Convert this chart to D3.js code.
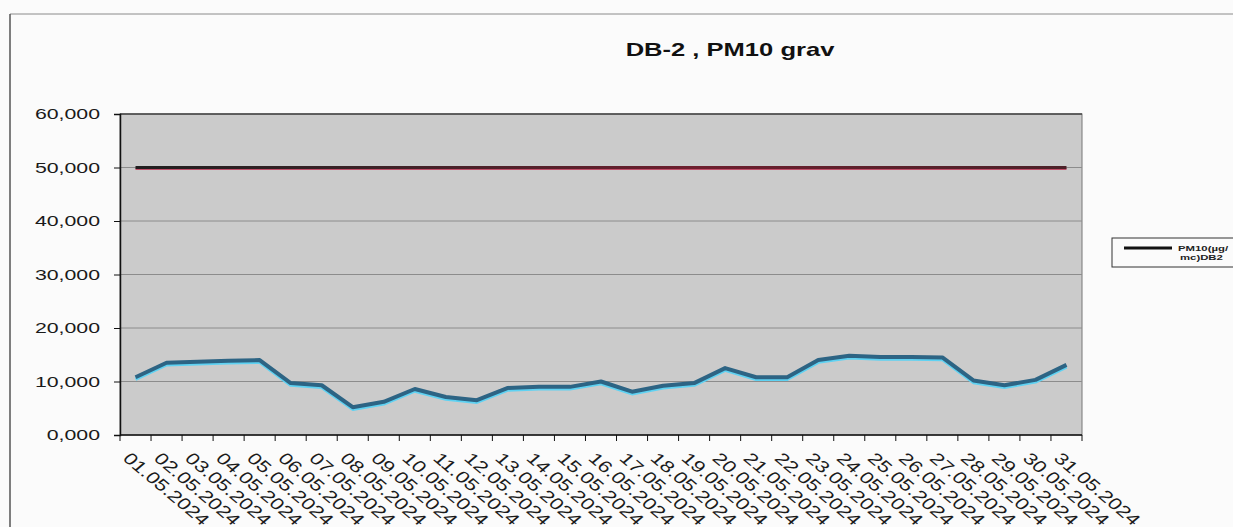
<!DOCTYPE html>
<html>
<head>
<meta charset="utf-8">
<script src="https://cdn.jsdelivr.net/npm/d3@7"></script>
<style>
  body { margin: 0; background: #fbfbfb; }
  svg { display: block; font-family: "Liberation Sans", Arial, sans-serif; }
</style>
</head>
<body>
<div id="chart"></div>
<script>
// data
let days = ['01.05.2024', '02.05.2024', '03.05.2024', '04.05.2024', '05.05.2024', '06.05.2024',
    '07.05.2024', '08.05.2024', '09.05.2024', '10.05.2024', '11.05.2024', '12.05.2024',
    '13.05.2024', '14.05.2024', '15.05.2024', '16.05.2024', '17.05.2024', '18.05.2024',
    '19.05.2024', '20.05.2024', '21.05.2024', '22.05.2024', '23.05.2024', '24.05.2024',
    '25.05.2024', '26.05.2024', '27.05.2024', '28.05.2024', '29.05.2024', '30.05.2024',
    '31.05.2024'];
let pm10 = [10.8, 13.5, 13.7, 13.9, 14.0, 9.7, 9.3, 5.2, 6.2, 8.6, 7.1, 6.5, 8.8, 9.0, 9.0, 10.0,
    8.1, 9.2, 9.7, 12.5, 10.8, 10.8, 14.0, 14.8, 14.6, 14.6, 14.5, 10.2, 9.3, 10.3, 13.1];
let limit = days.map(function () { return 50; });
let y_ticks = [0, 10, 20, 30, 40, 50, 60];
let title = 'DB-2 , PM10 grav';
let legend_lines = ['PM10(\u00b5g/', 'mc)DB2'];

let width = 1233, height = 527;
let plot_left = 120, plot_right = 1082, plot_top = 114, plot_bottom = 435;
let stretch = 1.42; // the scan is wider than it is tall

let svg = d3.select('#chart')
    .append('svg')
    .attr('width', width)
    .attr('height', height);

// outer chart frame (partly visible in the scan)
svg.append('line')
    .attr('x1', 10).attr('x2', width).attr('y1', 14).attr('y2', 14)
    .attr('stroke', '#8a8a8a').attr('stroke-width', 1);
svg.append('line')
    .attr('x1', 10).attr('x2', 10).attr('y1', 14).attr('y2', height)
    .attr('stroke', '#555').attr('stroke-width', 1.5);

let x = d3.scaleBand().domain(days).range([plot_left, plot_right]).padding(0);
let y = d3.scaleLinear().domain([0, 60]).range([plot_bottom, plot_top]);
let cx = function (d) { return x(d) + x.bandwidth() / 2; };

let locale = d3.formatLocale({ decimal: ',', thousands: '.', grouping: [3], currency: ['', ''] });
let fmt = locale.format('.3f');

// plot area
svg.append('rect')
    .attr('x', plot_left).attr('y', plot_top)
    .attr('width', plot_right - plot_left).attr('height', plot_bottom - plot_top)
    .attr('fill', '#cbcbcb')
    .attr('stroke', '#777').attr('stroke-width', 1);

svg.append('g')
    .selectAll('line')
    .data(y_ticks.slice(1, -1))
    .join('line')
    .attr('x1', plot_left).attr('x2', plot_right)
    .attr('y1', function (d) { return y(d); })
    .attr('y2', function (d) { return y(d); })
    .attr('stroke', '#8c8c8c').attr('stroke-width', 1);

svg.append('line')
    .attr('x1', plot_left).attr('x2', plot_right).attr('y1', plot_top).attr('y2', plot_top)
    .attr('stroke', '#444').attr('stroke-width', 1.5);

// y axis
let y_axis = d3.axisLeft(y).tickValues(y_ticks).tickFormat(fmt).tickSize(6);
let gy = svg.append('g')
    .attr('transform', 'translate(' + plot_left + ',0)')
    .call(y_axis);
gy.select('.domain').attr('stroke', '#111').attr('stroke-width', 1.5);
gy.selectAll('.tick line').attr('stroke', '#111');
gy.selectAll('.tick text')
    .attr('x', 0)
    .attr('transform', 'translate(-20,0) scale(' + stretch + ',1)')
    .attr('font-size', '15px')
    .attr('font-family', '"Liberation Sans", Arial, sans-serif')
    .attr('fill', '#1a1a1a');

// x axis: ticks between categories, rotated labels
let gx = svg.append('g');
gx.append('line')
    .attr('x1', plot_left).attr('x2', plot_right).attr('y1', plot_bottom).attr('y2', plot_bottom)
    .attr('stroke', '#111').attr('stroke-width', 1.5);
gx.selectAll('line.tick')
    .data(days.concat(['end']))
    .join('line')
    .attr('class', 'tick')
    .attr('x1', function (d) { return d === 'end' ? plot_right : x(d); })
    .attr('x2', function (d) { return d === 'end' ? plot_right : x(d); })
    .attr('y1', plot_bottom).attr('y2', plot_bottom + 6)
    .attr('stroke', '#111');
gx.selectAll('text')
    .data(days)
    .join('text')
    .attr('transform', function (d) {
        return 'translate(' + (cx(d) - 4) + ',' + (plot_bottom + 16) + ') scale(1.19,1) rotate(45)';
    })
    .attr('dominant-baseline', 'hanging')
    .attr('font-size', '16px')
    .attr('textLength', 95)
    .attr('lengthAdjust', 'spacingAndGlyphs')
    .attr('fill', '#1a1a1a')
    .text(function (d) { return d; });

// limit line, dark fading into red as on the print
let grad = svg.append('defs').append('linearGradient')
    .attr('id', 'limitgrad')
    .attr('gradientUnits', 'userSpaceOnUse')
    .attr('x1', plot_left).attr('x2', plot_right).attr('y1', 0).attr('y2', 0);
grad.append('stop').attr('offset', '0%').attr('stop-color', '#1e1e1e');
grad.append('stop').attr('offset', '25%').attr('stop-color', '#3a2226');
grad.append('stop').attr('offset', '60%').attr('stop-color', '#6e1f2e');
grad.append('stop').attr('offset', '100%').attr('stop-color', '#4a2228');

let line = d3.line()
    .x(function (d, i) { return cx(days[i]); })
    .y(function (d) { return y(d); });

svg.append('path')
    .datum(limit)
    .attr('d', line)
    .attr('transform', 'translate(0,1.5)')
    .attr('fill', 'none')
    .attr('stroke', '#c0506a').attr('stroke-width', 2);
svg.append('path')
    .datum(limit)
    .attr('d', line)
    .attr('fill', 'none')
    .attr('stroke', 'url(#limitgrad)').attr('stroke-width', 3);

// measured PM10 series
svg.append('path')
    .datum(pm10)
    .attr('d', line)
    .attr('transform', 'translate(0,2)')
    .attr('fill', 'none')
    .attr('stroke', '#5fd2f2').attr('stroke-width', 3.5)
    .attr('stroke-linejoin', 'round');
svg.append('path')
    .datum(pm10)
    .attr('d', line)
    .attr('fill', 'none')
    .attr('stroke', '#2d6484').attr('stroke-width', 4)
    .attr('stroke-linejoin', 'round');

// title
svg.append('text')
    .attr('transform', 'translate(730,56) scale(' + stretch + ',1)')
    .attr('text-anchor', 'middle')
    .attr('font-size', '18px')
    .attr('font-weight', 'bold')
    .attr('fill', '#111')
    .text(title);

// legend, cut off by the right edge
let lg = svg.append('g');
lg.append('rect')
    .attr('x', 1112).attr('y', 238).attr('width', 140).attr('height', 29)
    .attr('fill', '#fbfbfb').attr('stroke', '#333').attr('stroke-width', 1);
lg.append('line')
    .attr('x1', 1124).attr('x2', 1172).attr('y1', 248).attr('y2', 248)
    .attr('stroke', '#111').attr('stroke-width', 3);
lg.selectAll('text')
    .data(legend_lines)
    .join('text')
    .attr('transform', function (d, i) {
        return 'translate(' + (i === 0 ? 1178 : 1180) + ',' + (251 + i * 9) + ') scale(' + stretch + ',1)';
    })
    .attr('font-size', '8px')
    .attr('font-weight', 'bold')
    .attr('fill', '#222')
    .text(function (d) { return d; });
</script>
</body>
</html>
